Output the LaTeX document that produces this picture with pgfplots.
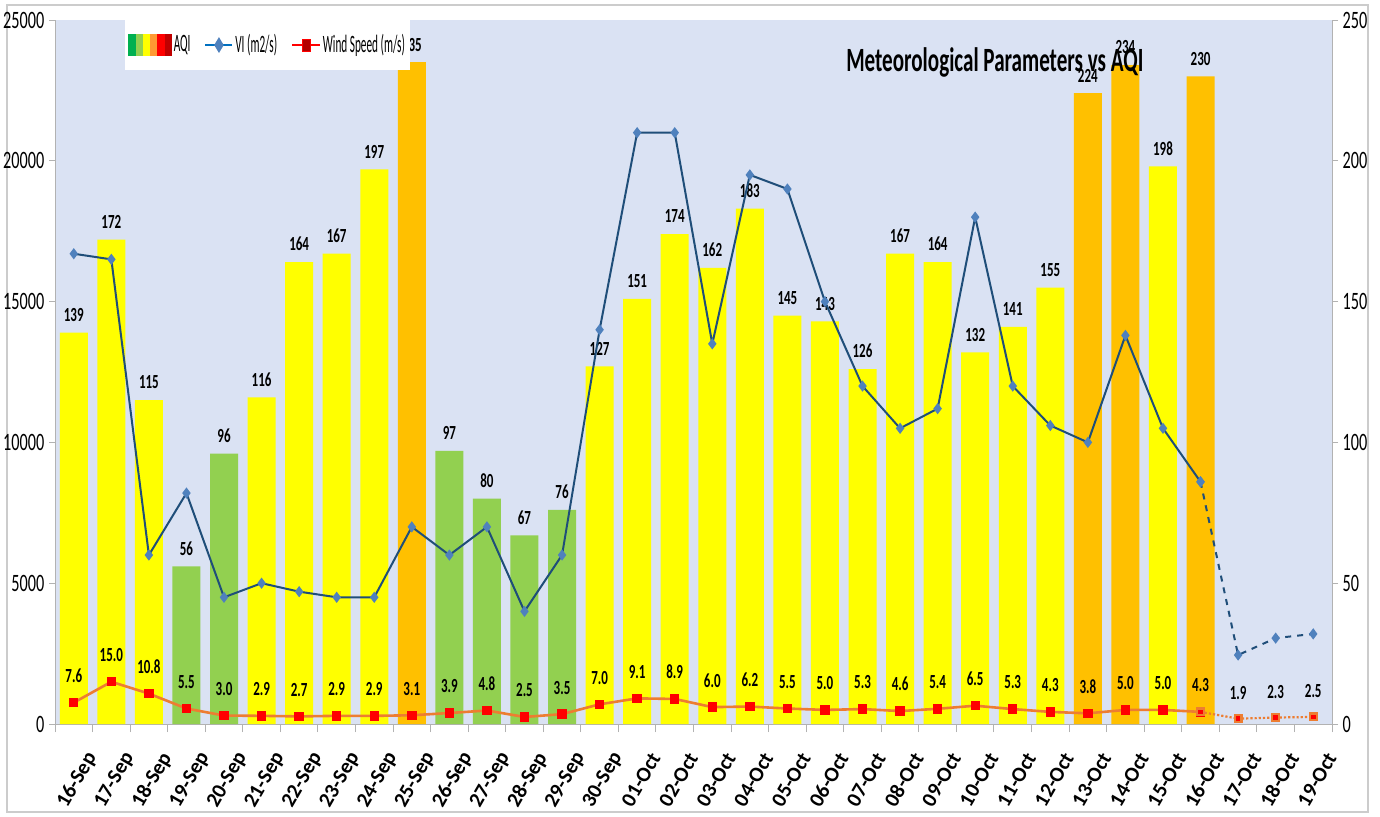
\documentclass[border=0pt]{standalone}
\usepackage{pgfplots}
\pgfplotsset{compat=1.18}
\usepackage{fontspec}
\setmainfont{Carlito}
\definecolor{bg}{RGB}{218,226,243}
\definecolor{aqiyellow}{RGB}{255,255,0}
\definecolor{aqigreen}{RGB}{146,208,80}
\definecolor{aqiorange}{RGB}{255,192,0}
\definecolor{vline}{RGB}{31,78,121}
\definecolor{vmark}{RGB}{79,129,189}
\definecolor{wline}{RGB}{237,125,49}
\definecolor{wmark}{RGB}{255,0,0}
\definecolor{dgreen}{RGB}{0,176,80}
\definecolor{dred}{RGB}{192,0,0}
\definecolor{lblue}{RGB}{0,112,192}
\pgfplotsset{
  common/.style={
    at={(27.5pt,46pt)}, anchor=south west, scale only axis,
    width=638.5pt, height=352pt,
    xmin=-0.5, xmax=33.5, ymin=0,
    tick align=outside,
    /pgf/number format/assume math mode=true,
    /pgf/number format/1000 sep={},
    scaled y ticks=false,
    axis line style={gray!60},
    y tick style={gray!60, line width=0.5pt},
    major tick length=3pt,
    yticklabel style={font=\fontsize{12.5}{14}\selectfont, xscale=0.65},
    clip=false,
  }
}
\begin{document}
\begin{tikzpicture}
\useasboundingbox (0,0) rectangle (690pt,408pt);
\fill[white] (0,0) rectangle (690pt,408pt);
\draw[gray!40, line width=1pt] (3.5pt,2pt) rectangle (684pt,405.5pt);

% right axis: AQI bars and wind speed
\begin{axis}[common,
  ymax=250, ytick={0,50,...,250},
  axis y line*=right, axis x line*=bottom,
  axis background/.style={fill=bg},
  xtick={0,...,33},
  xticklabels={16-Sep,17-Sep,18-Sep,19-Sep,20-Sep,21-Sep,22-Sep,23-Sep,24-Sep,25-Sep,26-Sep,27-Sep,28-Sep,29-Sep,30-Sep,01-Oct,02-Oct,03-Oct,04-Oct,05-Oct,06-Oct,07-Oct,08-Oct,09-Oct,10-Oct,11-Oct,12-Oct,13-Oct,14-Oct,15-Oct,16-Oct,17-Oct,18-Oct,19-Oct},
  xticklabel style={font=\bfseries\fontsize{10.5}{12}\selectfont, rotate=60, anchor=east, yshift=-14pt, xshift=-2.5pt},
  major x tick style={draw=none},
  minor xtick={-0.5,0.5,...,33.5},
  minor x tick style={gray!60, line width=0.5pt},
  minor tick length=4pt,
  yticklabel style={anchor=west},
  barlab/.style={nodes near coords, every node near coord/.append style={font=\bfseries\fontsize{10}{12}\selectfont, xscale=0.65, anchor=south, yshift=2pt, text=black}},
  windlab/.style={nodes near coords={\pgfmathprintnumber[fixed,precision=1,zerofill]{\pgfplotspointmeta}}, every node near coord/.append style={font=\bfseries\fontsize{10}{12}\selectfont, xscale=0.65, anchor=south, yshift=6pt, text=black}},
]
\addplot[ybar, bar width=14pt, bar shift=0pt, fill=aqiyellow, draw=none, barlab] coordinates {
(0,139) (1,172) (2,115) (5,116) (6,164) (7,167) (8,197) (14,127) (15,151) (16,174) (17,162) (18,183) (19,145) (20,143) (21,126) (22,167) (23,164) (24,132) (25,141) (26,155) (29,198)};
\addplot[ybar, bar width=14pt, bar shift=0pt, fill=aqigreen, draw=none, barlab] coordinates {
(3,56) (4,96) (10,97) (11,80) (12,67) (13,76)};
\addplot[ybar, bar width=14pt, bar shift=0pt, fill=aqiorange, draw=none, barlab] coordinates {
(9,235) (27,224) (28,234) (30,230)};
\addplot[wline, line width=1.3pt, mark=square*, mark size=1.7pt, mark options={fill=wmark, draw=wmark, solid}, windlab] coordinates {
(0,7.6) (1,15.0) (2,10.8) (3,5.5) (4,3.0) (5,2.9) (6,2.7) (7,2.9) (8,2.9) (9,3.1) (10,3.9) (11,4.8) (12,2.5) (13,3.5) (14,7.0) (15,9.1) (16,8.9) (17,6.0) (18,6.2) (19,5.5) (20,5.0) (21,5.3) (22,4.6) (23,5.4) (24,6.5) (25,5.3) (26,4.3) (27,3.8) (28,5.0) (29,5.0) (30,4.3)};
\addplot[wline, line width=1.1pt, densely dotted, mark=square*, mark size=1.7pt, mark options={fill=wmark, draw=wline, solid}] coordinates {
(30,4.3) (31,1.9) (32,2.3) (33,2.5)};
\addplot[draw=none, mark=none, windlab] coordinates {
(31,1.9) (32,2.3) (33,2.5)};
\end{axis}

% left axis: VI
\begin{axis}[common,
  ymax=25000, ytick={0,5000,...,25000},
  axis y line*=left, hide x axis,
  yticklabel style={anchor=east},
  legend style={at={(0.0548,1.0)}, anchor=north west, draw=none, fill=white,
    font=\fontsize{12.5}{14}\selectfont, inner ysep=5pt, inner xsep=1.5pt,
    nodes={inner xsep=0.8pt},
    /tikz/every even column/.append style={column sep=6pt}},
  legend columns=3,
  legend cell align=left,
]
\addlegendimage{legend image code/.code={
  \fill[dgreen] (0pt,-5.25pt) rectangle (4pt,5.25pt);
  \fill[aqigreen] (4pt,-5.25pt) rectangle (7.5pt,5.25pt);
  \fill[aqiyellow] (7.5pt,-5.25pt) rectangle (11pt,5.25pt);
  \fill[orange!80] (11pt,-5.25pt) rectangle (14.5pt,5.25pt);
  \fill[red] (14.5pt,-5.25pt) rectangle (18.5pt,5.25pt);
  \fill[dred] (18.5pt,-5.25pt) rectangle (21.5pt,5.25pt);
}}
\addlegendentry{\scalebox{0.45}[1]{AQI}}
\addplot[vline, line width=1pt, mark=diamond*, mark size=2pt, mark options={fill=vmark, draw=vmark},
  legend image code/.code={\draw[lblue, line width=1.3pt] (0pt,0pt) -- (13.5pt,0pt); \fill[vmark] (6.75pt,0pt) +(0,3pt) -- +(1.8pt,0) -- +(0,-3pt) -- +(-1.8pt,0) -- cycle;}] coordinates {
(0,16700) (1,16500) (2,6000) (3,8200) (4,4500) (5,5000) (6,4700) (7,4500) (8,4500) (9,7000) (10,6000) (11,7000) (12,4000) (13,6000) (14,14000) (15,21000) (16,21000) (17,13500) (18,19500) (19,19000) (20,15000) (21,12000) (22,10500) (23,11200) (24,18000) (25,12000) (26,10600) (27,10000) (28,13800) (29,10500) (30,8600)};
\addlegendentry{\scalebox{0.45}[1]{VI (m2/s)}}
\addplot[vline, line width=1pt, dashed, mark=diamond*, mark size=2pt, mark options={fill=vmark, draw=vmark, solid}, forget plot] coordinates {
(30,8600) (31,2450) (32,3050) (33,3200)};
\addlegendimage{legend image code/.code={\draw[wmark, line width=1.3pt] (0pt,0pt) -- (14pt,0pt); \filldraw[fill=wmark!70!black, draw=wmark] (5pt,-3pt) rectangle (9pt,3pt);}}
\addlegendentry{\scalebox{0.45}[1]{Wind Speed (m/s)}}
\node[font=\bfseries\fontsize{17}{20}\selectfont, xscale=0.62, text=black] at (rel axis cs:0.736,0.94) {Meteorological Parameters vs AQI};
\end{axis}
\end{tikzpicture}
\end{document}
